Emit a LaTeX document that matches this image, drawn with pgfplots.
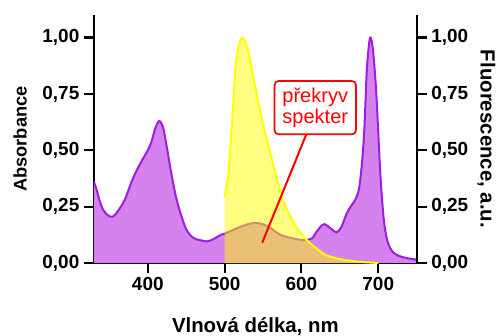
\documentclass[border=0pt]{standalone}
\usepackage{pgfplots}
\pgfplotsset{compat=1.18}
\usepackage{fontspec}
\setmainfont{Liberation Sans}
\definecolor{pline}{RGB}{155,30,225}
\definecolor{pfill}{RGB}{213,130,238}
\definecolor{yline}{RGB}{255,255,0}
\pgfplotsset{
 common/.style={
   scale only axis, width=242bp, height=186bp,
   xmin=330, xmax=750, ymin=0, ymax=1.1,
   axis line style={line width=1.7bp},
   tick style={line width=1.6bp, black},
   major tick length=7.5bp,
   tick align=outside,
   ytick={0,0.25,0.5,0.75,1},
   yticklabels={{0,00},{0,25},{0,50},{0,75},{1,00}},
   tick label style={font=\fontsize{14.2bp}{16bp}\selectfont\bfseries},
   /pgf/number format/assume math mode=true,
 }
}
\begin{document}
\begin{tikzpicture}
\useasboundingbox (-70.5bp,-54.75bp) rectangle (301.5bp,197.25bp);
\begin{axis}[common,
  axis x line*=bottom, axis y line*=left,
  xtick={400,500,600,700},
  xlabel={Vlnová délka, nm},
  xlabel style={at={(axis description cs:0.5,-0.282)}, anchor=base, font=\fontsize{15.3bp}{18bp}\selectfont\bfseries},
  ylabel={Absorbance},
  ylabel style={at={(axis description cs:-0.2293,0.5)}, anchor=center, font=\fontsize{13.7bp}{16bp}\selectfont\bfseries},
]
\addplot[draw=none, fill=pfill, smooth] coordinates {
(330,0.36)(333,0.33)(337,0.28)(342,0.235)(348,0.212)(354,0.205)(360,0.225)(370,0.28)(380,0.37)(390,0.44)(400,0.50)(405,0.54)(410,0.60)(415,0.63)(420,0.60)(425,0.51)(430,0.41)(435,0.32)(440,0.25)(450,0.15)(460,0.11)(470,0.10)(477,0.096)(485,0.105)(495,0.125)(500,0.13)(510,0.145)(520,0.16)(530,0.172)(540,0.178)(550,0.172)(560,0.155)(566,0.139)(575,0.122)(588,0.11)(600,0.102)(606,0.102)(614,0.11)(620,0.14)(626,0.165)(630,0.172)(635,0.162)(640,0.148)(646,0.136)(652,0.16)(659,0.22)(665,0.255)(670,0.28)(675,0.33)(679,0.45)(682,0.60)(685,0.85)(688,0.97)(690,1.0)(693,0.95)(697,0.78)(700,0.58)(703,0.38)(707,0.20)(711,0.11)(715,0.07)(720,0.045)(728,0.03)(740,0.02)(750,0.015)
} \closedcycle;
\addplot[pline, line width=1.5bp, smooth] coordinates {
(330,0.36)(333,0.33)(337,0.28)(342,0.235)(348,0.212)(354,0.205)(360,0.225)(370,0.28)(380,0.37)(390,0.44)(400,0.50)(405,0.54)(410,0.60)(415,0.63)(420,0.60)(425,0.51)(430,0.41)(435,0.32)(440,0.25)(450,0.15)(460,0.11)(470,0.10)(477,0.096)(485,0.105)(495,0.125)(500,0.13)(510,0.145)(520,0.16)(530,0.172)(540,0.178)(550,0.172)(560,0.155)(566,0.139)(575,0.122)(588,0.11)(600,0.102)(606,0.102)(614,0.11)(620,0.14)(626,0.165)(630,0.172)(635,0.162)(640,0.148)(646,0.136)(652,0.16)(659,0.22)(665,0.255)(670,0.28)(675,0.33)(679,0.45)(682,0.60)(685,0.85)(688,0.97)(690,1.0)(693,0.95)(697,0.78)(700,0.58)(703,0.38)(707,0.20)(711,0.11)(715,0.07)(720,0.045)(728,0.03)(740,0.02)(750,0.015)
};
\addplot[draw=none, fill=yline, fill opacity=0.5, smooth] coordinates {
(500,0.29)(503,0.36)(505.5,0.41)(508,0.54)(510,0.635)(514,0.857)(518,0.96)(523,1.0)(527,0.98)(531.4,0.93)(535,0.87)(540,0.78)(548.8,0.635)(557.4,0.516)(566,0.40)(574.7,0.294)(583.4,0.22)(596,0.146)(609,0.095)(622,0.058)(631,0.036)(641,0.025)(655,0.014)(670,0.007)(685,0.003)(700,0.0)
} \closedcycle;
\addplot[yline, line width=1.5bp, smooth] coordinates {
(500,0.29)(503,0.36)(505.5,0.41)(508,0.54)(510,0.635)(514,0.857)(518,0.96)(523,1.0)(527,0.98)(531.4,0.93)(535,0.87)(540,0.78)(548.8,0.635)(557.4,0.516)(566,0.40)(574.7,0.294)(583.4,0.22)(596,0.146)(609,0.095)(622,0.058)(631,0.036)(641,0.025)(655,0.014)(670,0.007)(685,0.003)(700,0.0)
};
\draw[red, line width=1.5bp] (axis cs:607,0.576) -- (axis cs:549,0.09);
\node[draw=red, line width=1.3bp, rounded corners=3bp, fill=white, text=red, align=center,
  minimum width=61bp, minimum height=40bp, inner sep=0pt,
  font=\fontsize{15bp}{16.25bp}\selectfont] at (axis cs:618,0.689) {překryv\\spekter};
\end{axis}
\begin{axis}[common,
  axis x line=none, axis y line*=right,
  ylabel={Fluorescence, a.u.},
  ylabel style={at={(axis description cs:1.2165,0.5)}, anchor=center, rotate=180, font=\fontsize{15.3bp}{18bp}\selectfont\bfseries},
]
\end{axis}
\end{tikzpicture}
\end{document}
